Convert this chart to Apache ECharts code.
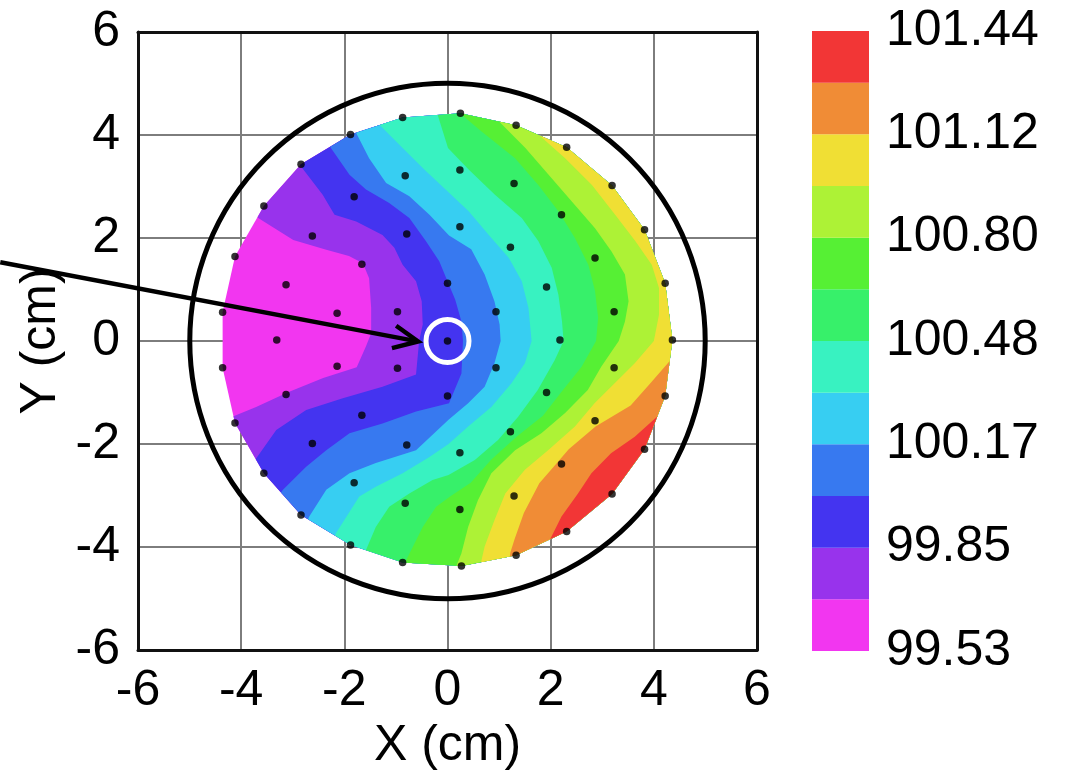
<!DOCTYPE html>
<html>
<head>
<meta charset="utf-8">
<script src="https://cdn.jsdelivr.net/npm/echarts@6/dist/echarts.min.js"></script>
<style>
html,body{margin:0;padding:0;background:#fff;}
#chart{width:1066px;height:781px;}
</style>
</head>
<body>
<div id="chart"></div>
<script>
// ---------- data ----------
const levelLabels = ['99.53', '99.85', '100.17', '100.48', '100.80', '101.12', '101.44'];
const bandColors = ['#F236F0', '#9833EC', '#4434F0', '#3779F0', '#37CEF2', '#38F2C1',
                    '#37F06A', '#56F034', '#ADF236', '#F0DF34', '#F08C36', '#F23636'];

// measurement sites (cm)
const sites = [
  [0, 0],
  [0, 1.12], [0.94, 0.57], [0.94, -0.52], [0, -1.07], [-0.97, -0.53], [-0.97, 0.57],
  [0.24, 2.22], [1.22, 1.82], [1.92, 1.05], [2.18, 0.02], [1.92, -1.0], [1.22, -1.76], [0.24, -2.17],
  [-0.79, -2.02], [-1.66, -1.44], [-2.14, -0.49], [-2.14, 0.54], [-1.66, 1.49], [-0.79, 2.08],
  [0.24, 3.32], [1.29, 3.06], [2.21, 2.45], [2.86, 1.61], [3.23, 0.57], [3.23, -0.52], [2.86, -1.55],
  [2.21, -2.39], [1.29, -3.01], [0.24, -3.27], [-0.82, -3.15], [-1.81, -2.75], [-2.62, -1.99],
  [-3.13, -1.04], [-3.31, 0.02], [-3.13, 1.09], [-2.62, 2.04], [-1.81, 2.80], [-0.82, 3.21],
  [0.25, 4.42], [1.33, 4.19], [2.31, 3.76], [3.19, 3.02], [3.82, 2.16], [4.22, 1.12], [4.36, 0.02],
  [4.22, -1.07], [3.82, -2.10], [3.19, -2.97], [2.31, -3.70], [1.33, -4.16], [0.27, -4.37],
  [-0.87, -4.30], [-1.88, -3.96], [-2.84, -3.38], [-3.56, -2.57], [-4.12, -1.59], [-4.36, -0.52],
  [-4.36, 0.56], [-4.12, 1.64], [-3.56, 2.62], [-2.84, 3.43], [-1.88, 4.01], [-0.87, 4.34]
];

// contour boundaries between consecutive colour bands (cm), traced from one wafer edge to the other
const contour1 = [[-4.0,2.7],[-3.67,2.39],[-2.99,1.96],[-2.35,1.77],[-1.91,1.65],[-1.64,1.51],[-1.52,1.22],[-1.48,0.64],[-1.48,0.15],[-1.58,-0.1],[-1.76,-0.51],[-2.41,-0.72],[-3.08,-0.99],[-3.71,-1.28],[-4.6,-1.65]];
const contour2 = [[-3.1,3.75],[-2.81,3.35],[-2.42,2.84],[-2.19,2.45],[-1.77,2.32],[-1.26,2.06],[-1.03,1.81],[-0.87,1.48],[-0.61,1.16],[-0.50,0.77],[-0.48,0.32],[-0.55,0.0],[-0.61,-0.65],[-1.26,-0.89],[-2.03,-1.11],[-2.74,-1.34],[-3.32,-1.73],[-3.71,-2.28],[-4.1,-2.85]];
const contour3 = [[-2.5,4.15],[-2.26,3.75],[-1.90,3.23],[-1.58,2.94],[-1.13,2.68],[-0.74,2.39],[-0.42,1.94],[-0.16,1.55],[0.0,1.16],[0.15,0.8],[0.27,0.38],[0.30,0.0],[0.27,-0.63],[0.03,-1.21],[-0.61,-1.37],[-1.26,-1.60],[-1.90,-1.79],[-2.35,-2.12],[-2.74,-2.44],[-3.19,-2.89],[-3.5,-3.3]];
const contour4 = [[-2.0,4.5],[-1.77,4.04],[-1.52,3.55],[-1.19,3.07],[-0.74,2.81],[-0.35,2.45],[0.03,2.05],[0.46,1.78],[0.72,1.29],[0.91,0.77],[1.01,0.32],[1.03,0.0],[0.91,-0.43],[0.72,-0.89],[0.40,-1.21],[0.02,-1.53],[-0.61,-2.12],[-1.39,-2.37],[-1.90,-2.57],[-2.35,-2.89],[-2.68,-3.41],[-2.9,-3.9]];
const contour5 = [[-1.5,4.6],[-1.32,4.20],[-0.87,3.75],[-0.42,3.30],[0.03,2.88],[0.41,2.52],[0.80,2.06],[1.19,1.61],[1.44,1.16],[1.57,0.64],[1.63,0.0],[1.50,-0.43],[1.24,-0.82],[0.85,-1.28],[0.40,-1.66],[0.02,-2.0],[-0.35,-2.25],[-0.87,-2.57],[-1.39,-2.83],[-1.71,-3.02],[-2.16,-3.73],[-2.4,-4.3]];
const contour6 = [[-0.35,4.8],[-0.2,4.42],[0.01,3.75],[0.41,3.33],[0.92,2.84],[1.44,2.39],[1.76,1.94],[2.02,1.42],[2.15,0.90],[2.22,0.38],[2.25,0.0],[2.08,-0.37],[1.75,-0.95],[1.37,-1.47],[0.98,-1.92],[0.53,-2.31],[0.02,-2.6],[-0.29,-2.70],[-0.74,-2.96],[-1.13,-3.22],[-1.39,-3.61],[-1.58,-4.06],[-1.7,-4.6]];
const contour7 = [[0.2,4.8],[0.27,4.4],[0.66,4.07],[1.31,3.55],[1.76,3.03],[2.15,2.52],[2.47,2.0],[2.73,1.48],[2.86,0.97],[2.92,0.45],[2.88,0.0],[2.6,-0.5],[2.2,-1.0],[1.85,-1.45],[1.35,-1.85],[0.85,-2.3],[0.45,-2.75],[0.05,-3.02],[-0.22,-3.22],[-0.48,-3.61],[-0.80,-4.25],[-0.9,-4.7]];
const contour8 = [[0.7,4.7],[0.99,4.27],[1.51,3.75],[1.96,3.23],[2.41,2.71],[2.86,2.19],[3.18,1.74],[3.44,1.29],[3.51,0.77],[3.44,0.38],[3.32,0.0],[2.98,-0.50],[2.72,-0.95],[2.28,-1.40],[1.82,-1.79],[1.31,-2.12],[0.85,-2.57],[0.59,-3.09],[0.40,-3.61],[0.27,-4.12],[0.14,-4.45],[0.1,-4.9]];
const contour9 = [[1.6,4.5],[1.76,4.01],[2.28,3.55],[2.80,3.03],[3.25,2.45],[3.64,1.94],[3.96,1.48],[4.10,1.03],[4.10,0.51],[4.0,0.0],[3.63,-0.43],[3.24,-0.82],[2.85,-1.21],[2.47,-1.66],[1.95,-2.12],[1.50,-2.50],[1.12,-2.96],[0.91,-3.48],[0.72,-3.99],[0.66,-4.25],[0.6,-4.7]];
const contour10 = [[4.8,-0.2],[4.30,-0.40],[3.95,-0.80],[3.55,-1.25],[2.87,-1.66],[2.35,-2.10],[2.05,-2.45],[1.78,-2.76],[1.48,-3.34],[1.30,-3.85],[1.22,-4.10],[1.15,-4.6]];
const contour11 = [[4.6,-1.2],[4.14,-1.40],[3.63,-1.86],[3.17,-2.18],[2.79,-2.57],[2.53,-2.96],[2.21,-3.41],[1.95,-3.93],[1.85,-4.3]];
const contours = [contour1, contour2, contour3, contour4, contour5, contour6, contour7, contour8, contour9, contour10, contour11];

const waferRadius = 5;            // cm, outline circle
const markedSite = [0, 0];        // circled site
const arrowStart = [-8.67, 1.53]; // cm (starts left of the plot)
const arrowTip = [-0.57, -0.01];

// ---------- geometry helpers ----------
function cross(o, a, b) { return (a[0]-o[0])*(b[1]-o[1]) - (a[1]-o[1])*(b[0]-o[0]); }
function convexHull(pts) {
  const p = pts.slice().sort((a, b) => a[0] - b[0] || a[1] - b[1]);
  const lower = [], upper = [];
  for (const q of p) { while (lower.length >= 2 && cross(lower[lower.length-2], lower[lower.length-1], q) <= 0) lower.pop(); lower.push(q); }
  for (let i = p.length - 1; i >= 0; i--) { const q = p[i]; while (upper.length >= 2 && cross(upper[upper.length-2], upper[upper.length-1], q) <= 0) upper.pop(); upper.push(q); }
  upper.pop(); lower.pop();
  return lower.concat(upper); // counter-clockwise
}
function clipPolygon(subject, clipPoly) {
  let output = subject;
  for (let i = 0; i < clipPoly.length; i++) {
    const A = clipPoly[i], B = clipPoly[(i + 1) % clipPoly.length];
    const input = output; output = [];
    if (!input.length) break;
    const side = p => cross(A, B, p);
    for (let j = 0; j < input.length; j++) {
      const P = input[j], Q = input[(j + 1) % input.length];
      const sp = side(P), sq = side(Q);
      if (sq >= 0) {
        if (sp < 0) { const t = sp / (sp - sq); output.push([P[0] + t*(Q[0]-P[0]), P[1] + t*(Q[1]-P[1])]); }
        output.push(Q);
      } else if (sp >= 0) {
        const t = sp / (sp - sq); output.push([P[0] + t*(Q[0]-P[0]), P[1] + t*(Q[1]-P[1])]);
      }
    }
  }
  return output;
}
const hull = convexHull(sites);
const bandPolys = [hull];
contours.forEach(c => {
  const first = c[0], last = c[c.length - 1];
  const region = [[first[0], 8]].concat(c, [[last[0], -8], [8, -8], [8, 8]]);
  bandPolys.push(clipPolygon(region, hull));
});

// ---------- chart ----------
const font = "'Liberation Sans', Arial, Helvetica, sans-serif";
const chart = echarts.init(document.getElementById('chart'), null, { renderer: 'canvas' });
chart.setOption({
  animation: false,
  backgroundColor: '#ffffff',
  grid: [
    { left: 138, top: 32, width: 619, height: 618, show: false, containLabel: false, outerBoundsMode: 'none' },
    { left: 812, top: 31, width: 57, height: 620, containLabel: false, outerBoundsMode: 'none' }
  ],
  xAxis: [
    { type: 'value', gridIndex: 0, min: -6, max: 6, interval: 2, position: 'bottom',
      name: 'X (cm)', nameLocation: 'middle', nameGap: 68,
      nameTextStyle: { fontSize: 50, color: '#000', fontFamily: font },
      axisLine: { show: true, onZero: false, lineStyle: { color: '#111', width: 3 } }, axisTick: { show: false },
      axisLabel: { fontSize: 50, color: '#000', fontFamily: font, margin: 16 },
      splitLine: { show: true, showMinLine: false, showMaxLine: false, lineStyle: { color: '#7d7d7d', width: 2 } } },
    { type: 'value', gridIndex: 1, min: 0, max: 1, show: false },
    { type: 'value', gridIndex: 0, min: -6, max: 6, interval: 2, position: 'top',
      axisLine: { show: true, onZero: false, lineStyle: { color: '#111', width: 3 } },
      axisTick: { show: false }, axisLabel: { show: false }, splitLine: { show: false } }
  ],
  yAxis: [
    { type: 'value', gridIndex: 0, min: -6, max: 6, interval: 2, position: 'left',
      name: 'Y (cm)', nameLocation: 'middle', nameGap: 72, nameMoveOverlap: false,
      nameTextStyle: { fontSize: 50, color: '#000', fontFamily: font },
      axisLine: { show: true, onZero: false, lineStyle: { color: '#111', width: 3 } }, axisTick: { show: false },
      axisLabel: { fontSize: 50, color: '#000', fontFamily: font, margin: 18 },
      splitLine: { show: true, showMinLine: false, showMaxLine: false, lineStyle: { color: '#7d7d7d', width: 2 } } },
    { type: 'value', gridIndex: 1, min: 0, max: 12, interval: 2, position: 'right',
      axisLine: { show: false }, axisTick: { show: false }, splitLine: { show: false },
      axisLabel: { fontSize: 50, color: '#000', fontFamily: font, margin: 17,
        formatter: v => levelLabels[Math.round(v / 2)] } },
    { type: 'value', gridIndex: 0, min: -6, max: 6, interval: 2, position: 'right',
      axisLine: { show: true, onZero: false, lineStyle: { color: '#111', width: 3 } },
      axisTick: { show: false }, axisLabel: { show: false }, splitLine: { show: false } }
  ],
  series: [
    { // colour bands on the wafer
      type: 'custom', xAxisIndex: 0, yAxisIndex: 0, clip: false, z: 2,
      data: bandColors.map((c, i) => [i, 0]),
      renderItem: (params, api) => {
        const k = params.dataIndex;
        const poly = bandPolys[k];
        if (!poly || poly.length < 3) return null;
        return { type: 'polygon', z2: k,
          shape: { points: poly.map(p => api.coord(p)) },
          style: { fill: bandColors[k] } };
      }
    },
    { // wafer outline circle
      type: 'custom', xAxisIndex: 0, yAxisIndex: 0, clip: false, z: 4,
      data: [[0, 0]],
      renderItem: (params, api) => {
        const c = api.coord([api.value(0), api.value(1)]);
        const r = api.size([waferRadius, waferRadius]);
        return { type: 'circle', shape: { cx: c[0], cy: c[1], r: (r[0] + r[1]) / 2 },
          style: { fill: 'none', stroke: '#000', lineWidth: 5 } };
      }
    },
    { // measurement sites
      type: 'scatter', xAxisIndex: 0, yAxisIndex: 0, z: 5,
      data: sites, symbol: 'circle', symbolSize: 7.5,
      itemStyle: { color: '#000' }, silent: true
    },
    { // circled site
      type: 'scatter', xAxisIndex: 0, yAxisIndex: 0, z: 6,
      data: [markedSite], symbol: 'circle', symbolSize: 43,
      itemStyle: { color: 'rgba(0,0,0,0)', borderColor: '#ffffff', borderWidth: 5, opacity: 1 }, silent: true
    },
    { // arrow
      type: 'custom', xAxisIndex: 0, yAxisIndex: 0, clip: false, z: 7,
      data: [[arrowStart[0], arrowStart[1], arrowTip[0], arrowTip[1]]],
      renderItem: (params, api) => {
        const p0 = api.coord([api.value(0), api.value(1)]);
        const p1 = api.coord([api.value(2), api.value(3)]);
        const ang = Math.atan2(p0[1] - p1[1], p0[0] - p1[0]);
        const L = 27, h = 25 * Math.PI / 180;
        const a1 = [p1[0] + L * Math.cos(ang + h), p1[1] + L * Math.sin(ang + h)];
        const a2 = [p1[0] + L * Math.cos(ang - h), p1[1] + L * Math.sin(ang - h)];
        return { type: 'group', children: [
          { type: 'line', shape: { x1: p0[0], y1: p0[1], x2: p1[0] + 2*Math.cos(ang), y2: p1[1] + 2*Math.sin(ang) },
            style: { stroke: '#000', lineWidth: 4.5 } },
          { type: 'polyline', shape: { points: [a1, p1, a2] },
            style: { stroke: '#000', lineWidth: 4.5, fill: 'none', lineJoin: 'miter' } }
        ] };
      }
    },
    { // colour bar
      type: 'custom', xAxisIndex: 1, yAxisIndex: 1, z: 2,
      data: bandColors.map((c, i) => [0, i]),
      renderItem: (params, api) => {
        const i = params.dataIndex;
        const a = api.coord([0, i]);
        const b = api.coord([1, i + 1]);
        return { type: 'rect', shape: { x: a[0], y: b[1], width: b[0] - a[0], height: a[1] - b[1] },
          style: { fill: bandColors[i] } };
      }
    }
  ]
});
</script>
</body>
</html>
